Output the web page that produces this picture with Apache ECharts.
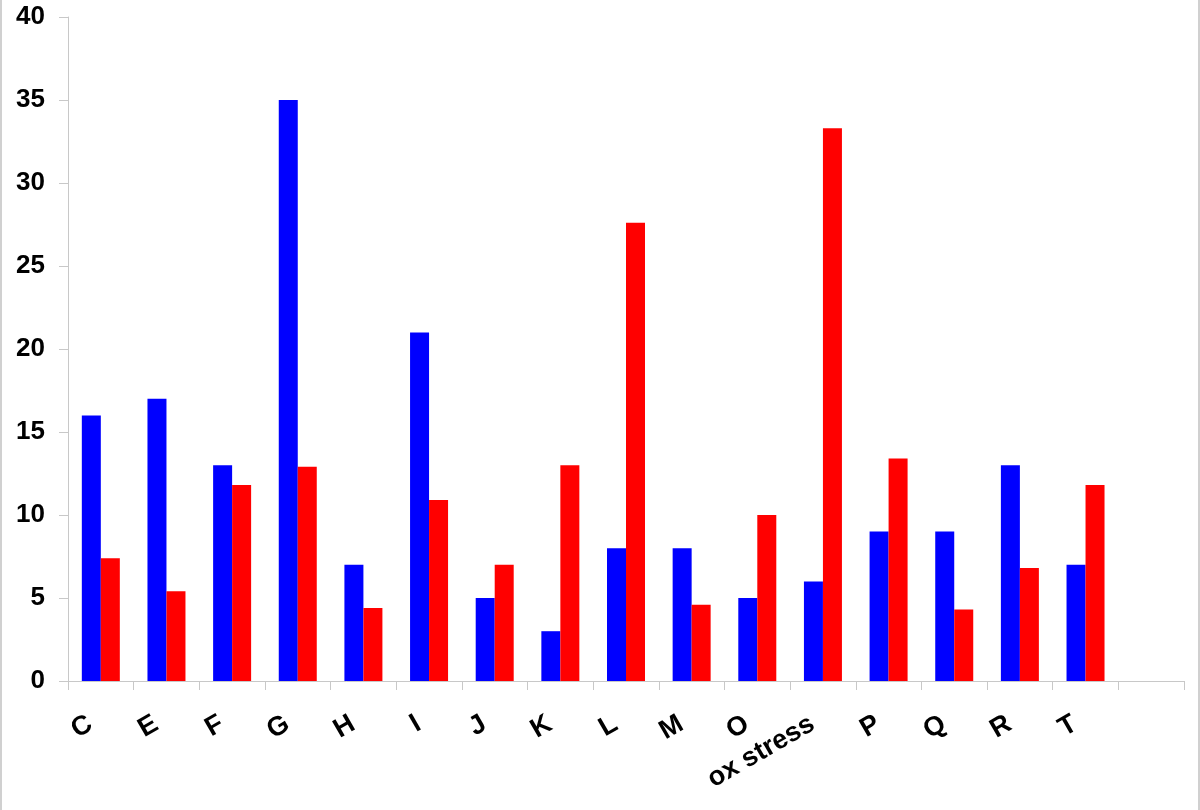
<!DOCTYPE html>
<html>
<head>
<meta charset="utf-8">
<script src="https://cdn.jsdelivr.net/npm/echarts@6.0.0/dist/echarts.min.js"></script>
<style>
  html, body { margin: 0; padding: 0; background: #fff; }
  #chart { width: 1196px; height: 810px; border-left: 2px solid #d0d0d0; border-right: 2px solid #d0d0d0; }
</style>
</head>
<body>
<div id="chart"></div>
<script>
const categories = ['C', 'E', 'F', 'G', 'H', 'I', 'J', 'K', 'L', 'M', 'O', 'ox stress', 'P', 'Q', 'R', 'T', '']
const blueValues = [16, 17, 13, 35, 7, 21, 5, 3, 8, 8, 5, 6, 9, 9, 13, 7, null]
const redValues = [7.4, 5.4, 11.8, 12.9, 4.4, 10.9, 7.0, 13.0, 27.6, 4.6, 10.0, 33.3, 13.4, 4.3, 6.8, 11.8, null]

const chart = echarts.init(document.getElementById('chart'))

const option = {
  animation: false,
  grid: {
    left: 66,
    right: 14,
    top: 17,
    bottom: 129,
  },
  xAxis: {
    type: 'category',
    data: categories,
    axisLine: { lineStyle: { color: '#c8c8c8', width: 1 } },
    axisTick: { show: true, length: 9, lineStyle: { color: '#c8c8c8' } },
    axisLabel: {
      interval: 0,
      rotate: 30,
      margin: 35,
      padding: [0, 12, 0, 0],
      color: '#000',
      fontFamily: 'Liberation Sans',
      fontWeight: 'bold',
      fontSize: 27,
    },
  },
  yAxis: {
    type: 'value',
    min: 0,
    max: 40,
    interval: 5,
    splitLine: { show: false },
    axisLine: { show: true, lineStyle: { color: '#c8c8c8', width: 1 } },
    axisTick: { show: true, length: 9, lineStyle: { color: '#c8c8c8' } },
    axisLabel: {
      margin: 23,
      color: '#000',
      fontFamily: 'Liberation Sans',
      fontWeight: 'bold',
      fontSize: 26,
    },
  },
  series: [
    {
      type: 'bar',
      data: blueValues,
      barWidth: 19,
      barGap: '0%',
      itemStyle: { color: '#0000ff' },
    },
    {
      type: 'bar',
      data: redValues,
      barWidth: 19,
      barGap: '0%',
      itemStyle: { color: '#ff0000' },
    },
  ],
}

chart.setOption(option)
</script>
</body>
</html>
